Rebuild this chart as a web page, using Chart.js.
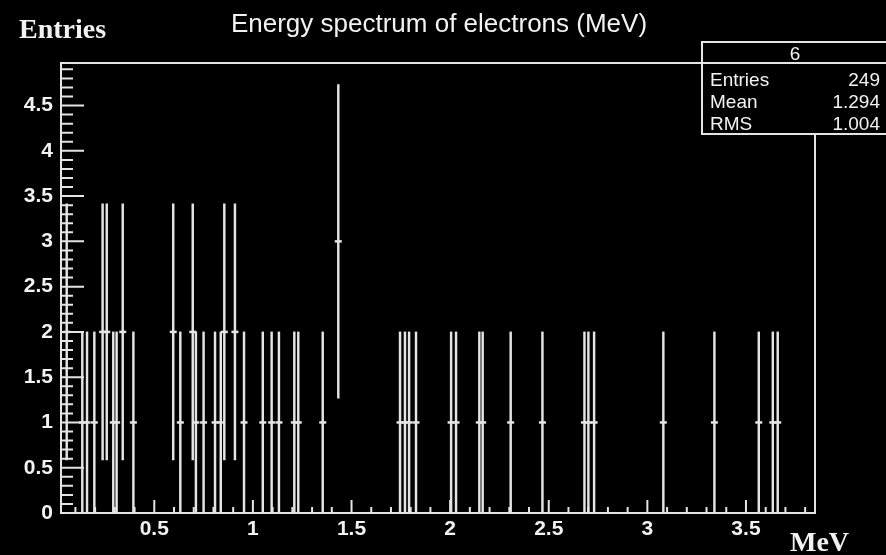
<!DOCTYPE html>
<html lang="en">
<head>
<meta charset="UTF-8">
<title>Energy spectrum of electrons</title>
<script src="https://cdn.jsdelivr.net/npm/chart.js"></script>
<style>
  html, body { margin: 0; padding: 0; background: #000; }
  canvas { display: block; }
</style>
</head>
<body>
<canvas id="chart" width="886" height="555"></canvas>
<script>
// centres (MeV) of the filled bins and their contents
const energies = [
  0.056, 0.135, 0.159, 0.196, 0.238, 0.259, 0.292, 0.309, 0.340, 0.394,
  0.596, 0.632, 0.695, 0.711, 0.750, 0.808, 0.837, 0.855, 0.909, 0.955,
  1.050, 1.095, 1.132, 1.210, 1.230, 1.354, 1.433, 1.746, 1.771, 1.792,
  1.827, 2.005, 2.030, 2.148, 2.165, 2.307, 2.468, 2.681, 2.701, 2.730,
  3.081, 3.340, 3.565, 3.636, 3.661
];
const counts = [
  2, 1, 1, 1, 2, 2, 1, 1, 2, 1,
  2, 1, 2, 1, 1, 1, 1, 2, 2, 1,
  1, 1, 1, 1, 1, 1, 3, 1, 1, 1,
  1, 1, 1, 1, 1, 1, 1, 1, 1, 1,
  1, 1, 1, 1, 1
];
const xTickValues = [0.5, 1, 1.5, 2, 2.5, 3, 3.5];
const xTickLabels = ['0.5', '1', '1.5', '2', '2.5', '3', '3.5'];
const yTickValues = [0, 0.5, 1, 1.5, 2, 2.5, 3, 3.5, 4, 4.5];
const yTickLabels = ['0', '0.5', '1', '1.5', '2', '2.5', '3', '3.5', '4', '4.5'];
const xRange = [0.027, 3.85];
const yRange = [0, 4.97];

const histName = '6';
const statNames = ['Entries', 'Mean', 'RMS'];
const statValues = ['249', '1.294', '1.004'];

const LINE = '#e4e4e4';
const TEXT = '#f2f2f2';
const SANS = '"Liberation Sans", Arial, sans-serif';
const SERIF = '"Liberation Serif", "Times New Roman", serif';

// poisson error bars: n +- sqrt(n)
const errorBars = energies.map((e, i) => ({
  x: e, y: [counts[i] - Math.sqrt(counts[i]), counts[i] + Math.sqrt(counts[i])]
}));
const centres = energies.map((e, i) => ({ x: e, y: counts[i] }));

// frame, inner ticks, titles and the stats box
const rootDecor = {
  id: 'rootDecor',
  afterDraw(chart) {
    const { ctx, chartArea: a, scales: { x, y } } = chart;
    ctx.save();
    ctx.strokeStyle = LINE;
    ctx.lineWidth = 2;

    ctx.beginPath();
    for (let i = 0; i <= 49; i++) {
      const py = y.getPixelForValue(i / 10);
      ctx.moveTo(a.left, py);
      ctx.lineTo(a.left + (i % 5 === 0 ? 23 : 12), py);
    }
    for (let i = 1; i <= 38; i++) {
      const px = x.getPixelForValue(i / 10);
      ctx.moveTo(px, a.bottom);
      ctx.lineTo(px, a.bottom - (i % 5 === 0 ? 13 : 6));
    }
    ctx.stroke();

    ctx.strokeRect(a.left, a.top, a.right - a.left, a.bottom - a.top);

    ctx.fillStyle = TEXT;
    ctx.textBaseline = 'alphabetic';
    ctx.textAlign = 'center';
    ctx.font = '26px ' + SANS;
    ctx.fillText('Energy spectrum of electrons (MeV)', 439, 32);

    ctx.textAlign = 'left';
    ctx.font = 'bold 28px ' + SERIF;
    ctx.fillText('Entries', 19, 38);
    ctx.fillText('MeV', 790, 551);

    // stats box
    const bx = 702, by = 42, bw = 200, bh = 92;
    ctx.fillStyle = '#000';
    ctx.fillRect(bx, by, bw, bh);
    ctx.strokeRect(bx, by, bw, bh);
    ctx.beginPath();
    ctx.moveTo(bx, 63);
    ctx.lineTo(bx + bw, 63);
    ctx.stroke();

    ctx.fillStyle = TEXT;
    ctx.font = '19px ' + SANS;
    ctx.textAlign = 'center';
    ctx.fillText(histName, 795, 60);
    statNames.forEach((name, i) => {
      const ty = 86 + i * 22;
      ctx.textAlign = 'left';
      ctx.fillText(name, 710, ty);
      ctx.textAlign = 'right';
      ctx.fillText(statValues[i], 880, ty);
    });
    ctx.restore();
  }
};

new Chart(document.getElementById('chart'), {
  type: 'bar',
  data: {
    datasets: [
      {
        type: 'bar',
        data: errorBars,
        backgroundColor: LINE,
        borderWidth: 0,
        barThickness: 1.8
      },
      {
        type: 'scatter',
        data: centres,
        pointStyle: 'line',
        pointRadius: 3.5,
        borderColor: LINE,
        borderWidth: 2.5,
        showLine: false
      }
    ]
  },
  options: {
    responsive: false,
    animation: false,
    layout: { padding: { top: 63, right: 71, left: 0, bottom: 0 } },
    plugins: {
      legend: { display: false },
      tooltip: { enabled: false },
      title: { display: false }
    },
    scales: {
      x: {
        type: 'linear',
        offset: false,
        min: xRange[0],
        max: xRange[1],
        grid: { display: false },
        border: { display: false },
        afterBuildTicks: s => { s.ticks = xTickValues.map(v => ({ value: v })); },
        afterFit: s => { s.height = 42; },
        ticks: {
          color: TEXT,
          padding: -4,
          maxRotation: 0,
          autoSkip: false,
          font: { family: SANS, size: 21, weight: 'bold' },
          callback: (v, i) => xTickLabels[i]
        }
      },
      y: {
        type: 'linear',
        min: yRange[0],
        max: yRange[1],
        grid: { display: false },
        border: { display: false },
        afterBuildTicks: s => { s.ticks = yTickValues.map(v => ({ value: v })); },
        afterFit: s => { s.width = 61; },
        ticks: {
          color: TEXT,
          padding: 0,
          autoSkip: false,
          font: { family: SANS, size: 21, weight: 'bold' },
          callback: (v, i) => yTickLabels[i]
        }
      }
    }
  },
  plugins: [rootDecor]
});
</script>
</body>
</html>
